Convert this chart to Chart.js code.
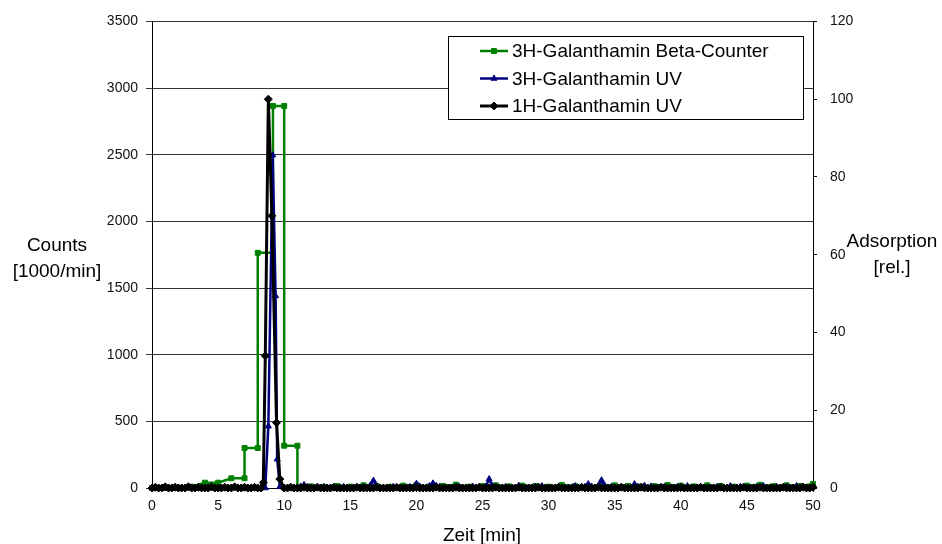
<!DOCTYPE html>
<html>
<head>
<meta charset="utf-8">
<title>Galanthamin Chromatogramm</title>
<script src="https://cdn.jsdelivr.net/npm/chart.js@4/dist/chart.umd.min.js"></script>
<style>
  html, body { margin: 0; padding: 0; background: #fff; }
  #wrap { width: 942px; height: 544px; }
</style>
</head>
<body>
<div id="wrap"><canvas id="chart" width="942" height="544"></canvas></div>
<script>
// Beta-counter fractions: each fraction is drawn as a plateau (start/end point)
const betaTime = [0,1,2,3,4,5,6,7,7,8,8,9.15,9.15,10,10,11,11,
  12,13,14,15,16,17,18,19,20,21,22,23,24,25,26,27,28,29,30,31,
  32,33,34,35,36,37,38,39,40,41,42,43,44,45,46,47,48,49,50];
const betaCounts = [0,0,0,10,40,40,73,73,300,300,1764,1764,2866,2866,317,317,0,
  12,8,15,10,20,14,9,18,22,12,
  16,25,10,14,20,12,18,15,10,22,
  14,12,18,20,16,10,14,22,18,12,
  20,15,10,18,24,14,20,16,30];

// UV detector sampling times [min]
const uvTime = [
  0,0.25,0.5,0.75,1,1.25,1.5,1.75,2,2.25,
  2.5,2.75,3,3.25,3.5,3.75,4,4.25,4.5,4.75,
  5,5.25,5.5,5.75,6,6.25,6.5,6.75,7,7.25,
  7.5,7.75,8,8.25,
  8.42,8.57,8.8,9.07,9.13,9.35,9.42,9.47,9.67,
  10,10.25,10.5,10.75,11,11.25,11.5,11.75,12,12.25,
  12.5,12.75,13,13.25,13.5,13.75,14,14.25,14.5,14.75,
  15,15.25,15.5,15.75,16,16.25,16.5,16.75,17,17.25,
  17.5,17.75,18,18.25,18.5,18.75,19,19.25,19.5,19.75,
  20,20.25,20.5,20.75,21,21.25,21.5,21.75,22,22.25,
  22.5,22.75,23,23.25,23.5,23.75,24,24.25,24.5,24.75,
  25,25.25,25.5,25.75,26,26.25,26.5,26.75,27,27.25,
  27.5,27.75,28,28.25,28.5,28.75,29,29.25,29.5,29.75,
  30,30.25,30.5,30.75,31,31.25,31.5,31.75,32,32.25,
  32.5,32.75,33,33.25,33.5,33.75,34,34.25,34.5,34.75,
  35,35.25,35.5,35.75,36,36.25,36.5,36.75,37,37.25,
  37.5,37.75,38,38.25,38.5,38.75,39,39.25,39.5,39.75,
  40,40.25,40.5,40.75,41,41.25,41.5,41.75,42,42.25,
  42.5,42.75,43,43.25,43.5,43.75,44,44.25,44.5,44.75,
  45,45.25,45.5,45.75,46,46.25,46.5,46.75,47,47.25,
  47.5,47.75,48,48.25,48.5,48.75,49,49.25,49.5,49.75,
  50];

// 3H-Galanthamin, UV absorption [rel.] (null = no sample at that time)
const uv3H = [
  0,0,0,0,0,0,0,0,0,0,
  0,0,0,0,0,0,0,0,0,0,
  0,0,0,0,0,0,0,0,0,0,
  0,0,0,0,
  null,0,15.9,null,85.6,49.4,null,7.4,0.3,
  0,0,0,0,0,0.4,0.8,0.3,0,0,
  0,0,0.3,0,0,0,0,0,0.3,0,
  0,0,0,0,0.3,0,0.6,1.9,0.5,0,
  0,0,0,0.3,0,0,0,0,0.3,0,
  1.1,0.4,0,0,0.5,1.2,0.6,0.3,0,0,
  0,0,0,0.3,0,0,0,0.4,0,0,
  0,0.4,2.3,0.5,0,0,0,0.3,0,0,
  0,0.6,0,0,0,0,0.3,0,0.5,0,
  0,0,0,0.3,0,0,0,0,0.5,0,
  0,0.3,1.0,0.4,0,0.5,2.0,0.6,0,0.3,
  0,0,0.3,0,0,0,1.0,0.3,0,0.6,
  0,0.4,0,0,0,0.3,0,0,0,0.3,
  0,0,0.5,0,0,0,0.3,0,0,0,
  0,0.3,0,0,0,0.5,0,0,0.3,0,
  0,0,0,0.3,0,0.5,0,0,0,0.3,
  0,0,0.4,0,0,0.5,0,0.3,0,0,
  0.3];

// 1H-Galanthamin, UV absorption [rel.]
const uv1H = [
  0,0.2,0,0,0.3,0,0,0.2,0,0,
  0,0.3,0,0,0.2,0,0,0,0.3,0,
  0,0,0.2,0,0,0.3,0,0,0.2,0,
  0,0.2,0,0,
  1.4,34,100,70,null,null,16.8,null,2.3,
  0,0,0.2,0,0,0,0.2,0,0,0,
  0.2,0,0,0,0,0.2,0,0,0,0,
  0,0,0.2,0,0,0,0,0,0.2,0,
  0,0,0,0,0.2,0,0,0,0,0,
  0.2,0,0,0,0,0,0.2,0,0,0,
  0,0,0.2,0,0,0,0,0,0,0.2,
  0,0,0,0,0.2,0,0,0,0,0,
  0,0.2,0,0,0,0,0,0.2,0,0,
  0,0,0,0.2,0,0,0,0,0,0,
  0.2,0,0,0,0,0.2,0,0,0,0,
  0,0,0.2,0,0,0,0,0,0.2,0,
  0,0,0,0,0.2,0,0,0,0,0,
  0.2,0,0,0,0,0,0.2,0,0,0,
  0,0,0.2,0,0,0,0,0,0,0.2,
  0,0,0,0,0.2,0,0,0,0,0,
  0,0.2,0,0,0,0,0,0.2,0,0,
  0.2];

// Axis tick values
const timeTicks  = [0,5,10,15,20,25,30,35,40,45,50];
const countTicks = [0,500,1000,1500,2000,2500,3000,3500];
const absTicks   = [0,20,40,60,80,100,120];

const FONT = '"Liberation Sans", Arial, Helvetica, sans-serif';

function toPoints(xs, ys) {
  return xs.map((x, i) => ({ x: x, y: ys[i] }));
}
function fixedTicks(values) {
  return function (scale) { scale.ticks = values.map(v => ({ value: v })); };
}
const plainLabel = v => String(v);

// Horizontal axis titles and the framed legend inside the plot
const decorations = {
  id: 'decorations',
  afterDraw(chart) {
    const ctx = chart.ctx;
    ctx.save();
    ctx.fillStyle = '#000';
    ctx.font = '19px ' + FONT;
    ctx.textAlign = 'center';
    ctx.textBaseline = 'middle';
    ctx.fillText('Counts', 57, 246);
    ctx.fillText('[1000/min]', 57, 272);
    ctx.fillText('Adsorption', 892, 242);
    ctx.fillText('[rel.]', 892, 268);
    ctx.fillText('Zeit [min]', 482, 536);

    // legend box
    const bx = 448.5, by = 36.5, bw = 355, bh = 83;
    ctx.fillStyle = '#fff';
    ctx.fillRect(bx, by, bw, bh);
    ctx.strokeStyle = '#000';
    ctx.lineWidth = 1;
    ctx.strokeRect(bx, by, bw, bh);

    const rows = [51, 78.5, 106];
    chart.data.datasets.forEach((ds, i) => {
      const y = rows[i];
      ctx.strokeStyle = ds.borderColor;
      ctx.lineWidth = ds.borderWidth;
      ctx.beginPath();
      ctx.moveTo(480, y);
      ctx.lineTo(508, y);
      ctx.stroke();
      ctx.fillStyle = ds.pointBackgroundColor;
      ctx.strokeStyle = ds.pointBorderColor;
      ctx.lineWidth = 1;
      Chart.helpers.drawPoint(ctx, {
        pointStyle: ds.pointStyle, radius: ds.pointRadius, rotation: 0, borderWidth: 1
      }, 494, y);
      ctx.fillStyle = '#000';
      ctx.textAlign = 'left';
      ctx.fillText(ds.label, 512, y + 1);
    });
    ctx.restore();
  }
};

new Chart(document.getElementById('chart'), {
  type: 'line',
  data: {
    datasets: [
      {
        label: '3H-Galanthamin Beta-Counter',
        data: toPoints(betaTime, betaCounts),
        yAxisID: 'y',
        borderColor: '#008000',
        backgroundColor: '#008000',
        pointBackgroundColor: '#008000',
        pointBorderColor: '#008000',
        borderWidth: 2.5,
        pointStyle: 'rect',
        pointRadius: 3.5,
        pointBorderWidth: 1,
        tension: 0,
        clip: false,
        order: 2
      },
      {
        label: '3H-Galanthamin UV',
        data: toPoints(uvTime, uv3H),
        yAxisID: 'y1',
        borderColor: '#000080',
        backgroundColor: '#000080',
        pointBackgroundColor: '#000080',
        pointBorderColor: '#000080',
        borderWidth: 2.5,
        pointStyle: 'triangle',
        pointRadius: 3.5,
        pointBorderWidth: 1,
        spanGaps: true,
        tension: 0,
        clip: false,
        order: 1
      },
      {
        label: '1H-Galanthamin UV',
        data: toPoints(uvTime, uv1H),
        yAxisID: 'y1',
        borderColor: '#000000',
        backgroundColor: '#000000',
        pointBackgroundColor: '#000000',
        pointBorderColor: '#000000',
        borderWidth: 3,
        pointStyle: 'rectRot',
        pointRadius: 4,
        pointBorderWidth: 1,
        spanGaps: true,
        tension: 0,
        clip: false,
        order: 0
      }
    ]
  },
  options: {
    responsive: false,
    devicePixelRatio: 1,
    animation: false,
    events: [],
    layout: { padding: { top: 21, left: 0, right: 0, bottom: 0 } },
    plugins: {
      legend: { display: false },
      tooltip: { enabled: false },
      title: { display: false }
    },
    scales: {
      x: {
        type: 'linear',
        position: 'bottom',
        min: 0, max: 50,
        afterBuildTicks: fixedTicks(timeTicks),
        afterFit(s) { s.height = 56; },
        ticks: { color: '#111', font: { family: FONT, size: 14 }, padding: 6, maxRotation: 0, callback: plainLabel },
        grid: { drawOnChartArea: false, drawTicks: true, tickLength: 4, color: '#000' },
        border: { color: '#000', width: 1 }
      },
      y: {
        type: 'linear',
        position: 'left',
        min: 0, max: 3500,
        afterBuildTicks: fixedTicks(countTicks),
        afterFit(s) { s.width = 152; },
        ticks: { color: '#111', font: { family: FONT, size: 14 }, padding: 8, callback: plainLabel },
        grid: { drawOnChartArea: true, drawTicks: true, tickLength: 6, color: '#333', lineWidth: 1 },
        border: { color: '#000', width: 1 }
      },
      y1: {
        type: 'linear',
        position: 'right',
        min: 0, max: 120,
        afterBuildTicks: fixedTicks(absTicks),
        afterFit(s) { s.width = 129; },
        ticks: { color: '#111', font: { family: FONT, size: 14 }, padding: 13, callback: plainLabel },
        grid: { drawOnChartArea: false, drawTicks: true, tickLength: 4, color: '#000' },
        border: { color: '#000', width: 1 }
      }
    }
  },
  plugins: [decorations]
});
</script>
</body>
</html>
